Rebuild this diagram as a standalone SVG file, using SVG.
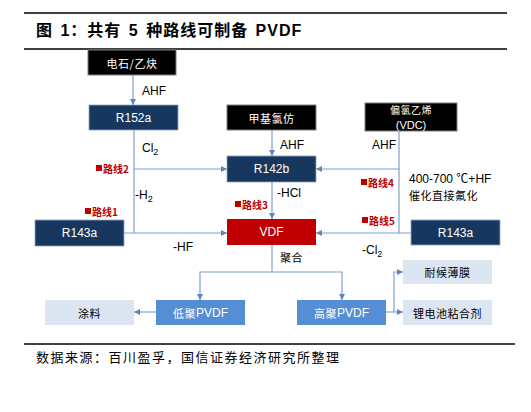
<svg xmlns="http://www.w3.org/2000/svg" width="531" height="412" viewBox="0 0 531 412">
<defs>
<marker id="ar" viewBox="0 0 6 6" refX="6" refY="3" markerWidth="6" markerHeight="6" orient="auto" markerUnits="userSpaceOnUse"><path d="M0,0 L6,3 L0,6 z" fill="#5b86c0"/></marker>
<style>
.t{font-family:"Liberation Sans","Noto Sans CJK SC",sans-serif;font-size:12px;fill:#000}
.cn{font-family:"Noto Sans CJK SC",sans-serif;font-size:11px;letter-spacing:0.5px}
.w{fill:#fff;text-anchor:middle;dominant-baseline:central}
.blk{fill:#000;stroke:#7f7f7f;stroke-width:1}
.navy{fill:#17375e;stroke:#8ea9c9;stroke-width:0.8}
.red{fill:#c00000}
.mid{fill:#558ed5}
.lt{fill:#dce6f2}
.ln{stroke:#7ea2d0;stroke-width:1.2;fill:none}
.ar{marker-end:url(#ar)}
.rt{font-family:"Noto Sans CJK SC",sans-serif;font-size:10px;fill:#c00000;font-weight:bold}
.rule{stroke:#000;stroke-width:1.3}
</style>
</defs>
<line class="rule" x1="24" y1="13" x2="507" y2="13"/>
<text x="36" y="36" style="font-family:'Liberation Sans','Noto Sans CJK SC',sans-serif;font-size:16px;font-weight:bold;letter-spacing:1px;word-spacing:2px">图 1：共有 5 种路线可制备 PVDF</text>
<line class="rule" x1="24" y1="49" x2="507" y2="49"/>

<g id="connectors">
<path class="ln ar" d="M133,75 V105"/>
<path class="ln ar" d="M134,130 V169 H227"/>
<path class="ln" d="M134,169 V233"/>
<path class="ln ar" d="M124,233 H227"/>
<path class="ln ar" d="M272,130 V156"/>
<path class="ln ar" d="M272,182 V219"/>
<path class="ln ar" d="M399,131 V169 H316"/>
<path class="ln" d="M399,169 V233"/>
<path class="ln ar" d="M411,233 H316"/>
<path class="ln" d="M272,245 V272"/>
<path class="ln ar" d="M272,272 H200 V300"/>
<path class="ln ar" d="M272,272 H342 V300"/>
<path class="ln ar" d="M156,312 H134"/>
<path class="ln ar" d="M386,312 H403"/>
<path class="ln ar" d="M394,312 V272 H403"/>
</g>

<g id="labels">
<text class="t" x="142" y="95">AHF</text>
<text class="t" x="142" y="152">Cl<tspan font-size="9" dy="3">2</tspan></text>
<text class="t" x="135" y="199">-H<tspan font-size="9" dy="3">2</tspan></text>
<text class="t" x="173" y="251">-HF</text>
<text class="t" x="280" y="149">AHF</text>
<text class="t" x="277" y="197">-HCl</text>
<text class="t" x="372" y="149">AHF</text>
<text class="t" x="409" y="183">400-700 ℃+HF</text>
<text class="t cn" x="409" y="200">催化直接氟化</text>
<text class="t" x="362" y="254">-Cl<tspan font-size="9" dy="3">2</tspan></text>
<text class="t cn" x="280" y="262">聚合</text>
<g>
<rect x="96" y="165" width="6" height="6" fill="#c00000"/><text class="rt" x="103" y="173">路线2</text>
<rect x="85" y="208" width="6" height="6" fill="#c00000"/><text class="rt" x="92" y="216">路线1</text>
<rect x="235" y="201" width="6" height="6" fill="#c00000"/><text class="rt" x="242" y="209">路线3</text>
<rect x="361" y="179" width="6" height="6" fill="#c00000"/><text class="rt" x="368" y="187">路线4</text>
<rect x="362" y="217" width="6" height="6" fill="#c00000"/><text class="rt" x="369" y="225">路线5</text>
</g>
</g>

<g id="n-calcium"><rect class="blk" x="88" y="50" width="88" height="25"/><text class="w cn" x="132" y="62.5">电石/乙炔</text></g>
<g id="n-r152a"><rect class="navy" x="89" y="105" width="89" height="25"/><text class="t w" x="133.5" y="117.5">R152a</text></g>
<g id="n-mcf"><rect class="blk" x="227" y="105" width="89" height="25"/><text class="w cn" x="271.5" y="117.5">甲基氯仿</text></g>
<g id="n-vdc"><rect class="blk" x="365" y="103" width="92" height="28"/><text class="w cn" x="411" y="109.5" style="font-size:10px">偏氯乙烯</text><text class="w t" x="411" y="124.5" style="font-size:11px">(VDC)</text></g>
<g id="n-r142b"><rect class="navy" x="227" y="156" width="89" height="26"/><text class="t w" x="271.5" y="169">R142b</text></g>
<g id="n-r143a-l"><rect class="navy" x="35" y="220" width="89" height="26"/><text class="t w" x="79.5" y="233">R143a</text></g>
<g id="n-vdf"><rect class="red" x="227" y="219" width="89" height="26"/><text class="t w" x="271.5" y="232">VDF</text></g>
<g id="n-r143a-r"><rect class="navy" x="411" y="220" width="89" height="25"/><text class="t w" x="455.5" y="232.5">R143a</text></g>
<g id="n-low"><rect class="mid" x="156" y="300" width="89" height="25"/><text class="t w" x="200.5" y="312.5"><tspan class="cn">低聚</tspan>PVDF</text></g>
<g id="n-coat"><rect class="lt" x="45" y="300" width="89" height="25"/><text class="t cn" x="89.5" y="312.5" text-anchor="middle" dominant-baseline="central" fill="#333">涂料</text></g>
<g id="n-high"><rect class="mid" x="297" y="300" width="89" height="25"/><text class="t w" x="341.5" y="312.5"><tspan class="cn">高聚</tspan>PVDF</text></g>
<g id="n-film"><rect class="lt" x="403" y="260" width="89" height="24"/><text class="t cn" x="447.5" y="272" text-anchor="middle" dominant-baseline="central" fill="#333">耐候薄膜</text></g>
<g id="n-binder"><rect class="lt" x="403" y="300" width="89" height="25"/><text class="t cn" x="447.5" y="312.5" text-anchor="middle" dominant-baseline="central" fill="#333">锂电池粘合剂</text></g>

<line class="rule" x1="24" y1="344" x2="515" y2="344"/>
<text class="t cn" x="36" y="362" style="font-size:13px;letter-spacing:1.5px">数据来源：百川盈孚，国信证券经济研究所整理</text>
</svg>
